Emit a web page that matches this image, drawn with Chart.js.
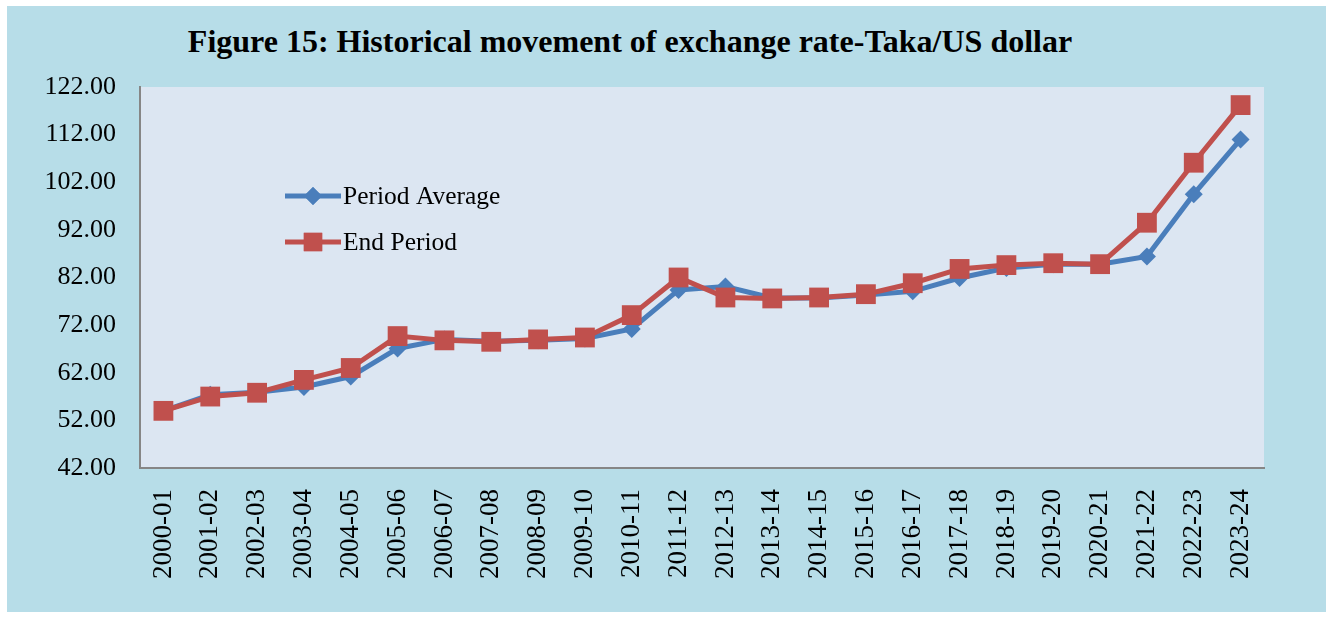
<!DOCTYPE html>
<html lang="en">
  <head>
    <meta charset="UTF-8" />
    <title>Exchange rate Taka/US dollar</title>
    <script src="https://cdn.jsdelivr.net/npm/chart.js"></script>
    <style>
      body { margin: 0; background: #fff; }
      #frame { position: absolute; left: 7px; top: 6px; width: 1319px; height: 606px; background: #b7dde8; }
      #title { position: absolute; left: 0; width: 1260px; top: 23px; text-align: center;
               font: bold 32px "Liberation Serif", "Times New Roman", serif; color: #000; }
      #chart { position: absolute; left: 0; top: 0; }
    </style>
  </head>
  <body>
    <div id="frame"></div>
    <div id="title">Figure 15: Historical movement of exchange rate-Taka/US dollar</div>
    <canvas id="chart" width="1333" height="617"></canvas>

    <script>
      const years = ["2000-01","2001-02","2002-03","2003-04","2004-05","2005-06","2006-07","2007-08",
        "2008-09","2009-10","2010-11","2011-12","2012-13","2013-14","2014-15","2015-16","2016-17",
        "2017-18","2018-19","2019-20","2020-21","2021-22","2022-23","2023-24"];
      const periodAverage = [54.0, 57.4, 57.9, 59.0, 61.2, 67.1, 69.0, 68.6, 68.8, 69.2, 71.2, 79.4,
        80.1, 77.7, 77.7, 78.3, 79.1, 81.9, 84.0, 84.8, 84.8, 86.4, 99.5, 111.0];
      const endPeriod = [54.0, 57.0, 57.8, 60.5, 63.0, 69.7, 68.8, 68.5, 69.0, 69.4, 74.1, 82.0,
        77.8, 77.6, 77.8, 78.5, 80.8, 83.8, 84.6, 85.0, 84.8, 93.5, 106.1, 118.2];
      const yTicks = { min: 42, max: 122, step: 10 };

      const blue = '#4a7ebb';
      const red = '#c0504d';
      const serif = '"Liberation Serif", "Times New Roman", serif';

      // plot background + legend drawn inside the plot area
      const plotDecor = {
        id: 'plotDecor',
        beforeDraw(chart) {
          const { ctx, chartArea: a } = chart;
          ctx.save();
          ctx.fillStyle = '#dce6f2';
          ctx.fillRect(a.left, a.top, a.right - a.left, a.bottom - a.top);
          ctx.restore();
        },
        afterDraw(chart) {
          const ctx = chart.ctx;
          const items = [
            { text: 'Period Average', color: blue, style: 'rectRot', r: 9, y: 196 },
            { text: 'End Period', color: red, style: 'rect', r: 13, y: 242 }
          ];
          ctx.save();
          items.forEach(it => {
            ctx.strokeStyle = it.color;
            ctx.lineWidth = 5;
            ctx.beginPath();
            ctx.moveTo(285, it.y);
            ctx.lineTo(341, it.y);
            ctx.stroke();
            ctx.fillStyle = it.color;
            Chart.helpers.drawPoint(ctx, { pointStyle: it.style, rotation: 0, radius: it.r, borderWidth: 0 }, 313, it.y);
            ctx.fill();
            ctx.fillStyle = '#000';
            ctx.font = '25.5px ' + serif;
            ctx.textBaseline = 'middle';
            ctx.fillText(it.text, 343, it.y + 1);
          });
          ctx.restore();
        }
      };

      new Chart(document.getElementById('chart'), {
        type: 'line',
        data: {
          labels: years,
          datasets: [
            {
              label: 'Period Average',
              data: periodAverage,
              borderColor: blue,
              backgroundColor: blue,
              borderWidth: 5,
              pointStyle: 'rectRot',
              pointRadius: 9,
              pointBorderWidth: 0,
              tension: 0,
              order: 1
            },
            {
              label: 'End Period',
              data: endPeriod,
              borderColor: red,
              backgroundColor: red,
              borderWidth: 5,
              pointStyle: 'rect',
              pointRadius: 14,
              pointBorderWidth: 0,
              tension: 0,
              order: 0
            }
          ]
        },
        options: {
          responsive: false,
          animation: false,
          layout: { padding: { left: 0, top: 87, right: 69, bottom: 0 } },
          plugins: {
            legend: { display: false },
            title: { display: false },
            tooltip: { enabled: false }
          },
          scales: {
            x: {
              offset: true,
              grid: { display: false, drawTicks: false },
              border: { display: true, color: '#868686', width: 2 },
              afterFit(s) { s.height = 149; },
              ticks: {
                minRotation: 90,
                maxRotation: 90,
                padding: 21,
                autoSkip: false,
                color: '#000',
                font: { family: serif, size: 27 }
              }
            },
            y: {
              min: yTicks.min,
              max: yTicks.max,
              grid: { display: false, drawTicks: false },
              border: { display: true, color: '#868686', width: 2 },
              afterFit(s) { s.width = 140; },
              ticks: {
                stepSize: yTicks.step,
                padding: 24,
                color: '#000',
                font: { family: serif, size: 26 },
                callback: v => v.toFixed(2)
              }
            }
          }
        },
        plugins: [plotDecor]
      });
    </script>
  </body>
</html>
